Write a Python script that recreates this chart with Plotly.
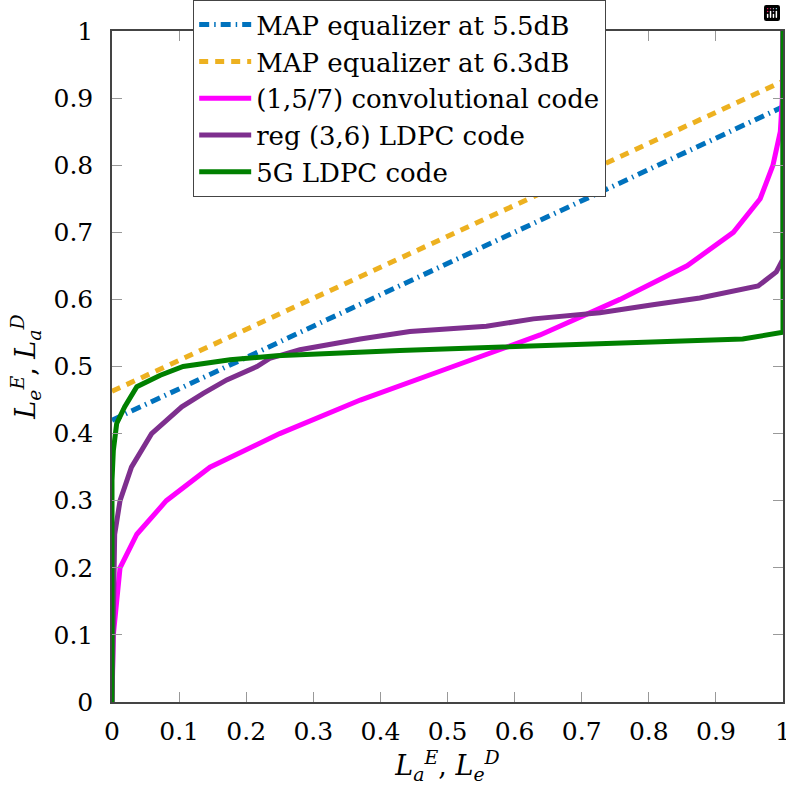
import plotly.graph_objects as go

# MAP equalizer transfer lines
map55_x = [0.0, 1.0]
map55_y = [0.42, 0.887]
map63_x = [0.0, 1.0]
map63_y = [0.463, 0.925]

# (1,5/7) convolutional code
conv_x = [0, 0.002, 0.012, 0.037, 0.081, 0.146, 0.25, 0.37, 0.5, 0.638, 0.757, 0.857, 0.926, 0.966, 0.985, 0.996, 0.999, 1.0]
conv_y = [0, 0.10, 0.20, 0.25, 0.30, 0.35, 0.40, 0.45, 0.497, 0.547, 0.60, 0.65, 0.70, 0.75, 0.80, 0.85, 0.90, 1.0]

# regular (3,6) LDPC code
reg_x = [0, 0.001, 0.002, 0.004, 0.012, 0.029, 0.059, 0.091, 0.104, 0.136, 0.171, 0.216, 0.235, 0.28, 0.37, 0.444, 0.558, 0.628, 0.727, 0.806, 0.876, 0.963, 0.99, 1.0, 1.0]
reg_y = [0, 0.10, 0.17, 0.25, 0.30, 0.35, 0.40, 0.428, 0.44, 0.46, 0.48, 0.50, 0.512, 0.525, 0.541, 0.552, 0.56, 0.571, 0.58, 0.592, 0.602, 0.62, 0.641, 0.66, 1.0]

# 5G LDPC code
g5_x = [0, 0, 0.002, 0.007, 0.019, 0.037, 0.072, 0.106, 0.176, 0.245, 0.429, 0.578, 0.94, 1.0, 1.0]
g5_y = [0, 0.33, 0.375, 0.415, 0.44, 0.47, 0.487, 0.50, 0.51, 0.516, 0.524, 0.529, 0.541, 0.551, 1.0]

series_names = ["MAP equalizer at 5.5dB", "MAP equalizer at 6.3dB", "(1,5/7) convolutional code",
                "reg (3,6) LDPC code", "5G LDPC code"]

tickvals = [0, 0.1, 0.2, 0.3, 0.4, 0.5, 0.6, 0.7, 0.8, 0.9, 1]
ticktext = ["0", "0.1", "0.2", "0.3", "0.4", "0.5", "0.6", "0.7", "0.8", "0.9", "1"]

FONT = "DejaVu Serif"

fig = go.Figure()
fig.add_trace(go.Scatter(x=map55_x, y=map55_y, mode="lines", name=series_names[0],
                         line=dict(color="#0072BD", width=5, dash="10px,5px,1.5px,5px")))
fig.add_trace(go.Scatter(x=map63_x, y=map63_y, mode="lines", name=series_names[1],
                         line=dict(color="#EDB120", width=5, dash="9px,7px")))
fig.add_trace(go.Scatter(x=conv_x, y=conv_y, mode="lines", name=series_names[2],
                         line=dict(color="#FF00FF", width=5)))
fig.add_trace(go.Scatter(x=reg_x, y=reg_y, mode="lines", name=series_names[3],
                         line=dict(color="#7E2F8E", width=5)))
fig.add_trace(go.Scatter(x=g5_x, y=g5_y, mode="lines", name=series_names[4],
                         line=dict(color="#008000", width=5)))

axis_common = dict(range=[0, 1], tickvals=tickvals, ticktext=ticktext,
                   showgrid=False, zeroline=False, showline=True, linecolor="#444",
                   linewidth=1.5, mirror="ticks", ticks="inside", ticklen=10,
                   tickcolor="#999", tickwidth=1.2, automargin=False,
                   ticklabeloverflow="allow",
                   tickfont=dict(family=FONT, size=25, color="black"))

fig.update_layout(
    width=786, height=790,
    margin=dict(l=112, r=3, t=31, b=88, autoexpand=False),
    plot_bgcolor="white", paper_bgcolor="white",
    font=dict(family=FONT, size=26, color="black"),
    xaxis=dict(**axis_common, ticklabelstandoff=6,
               title=dict(text="<i>L</i><sub><i>a</i></sub><sup><i>E</i></sup>, <i>L</i><sub><i>e</i></sub><sup><i>D</i></sup>",
                          font=dict(family=FONT, size=27), standoff=6)),
    yaxis=dict(**axis_common, ticklabelstandoff=12,
               title=dict(text="<i>L</i><sub><i>e</i></sub><sup><i>E</i></sup>, <i>L</i><sub><i>a</i></sub><sup><i>D</i></sup>",
                          font=dict(family=FONT, size=27), standoff=10)),
    legend=dict(x=0.1207, y=1.0462, xanchor="left", yanchor="top",
                bgcolor="white", bordercolor="#444", borderwidth=1.2,
                font=dict(family=FONT, size=26), tracegroupgap=0, itemwidth=52),
    modebar=dict(bgcolor="rgba(0,0,0,0)", color="rgba(0,0,0,0)", activecolor="rgba(0,0,0,0)"),
    showlegend=True,
)

fig.write_html("out.html", post_script="document.body.style.margin='0';")
